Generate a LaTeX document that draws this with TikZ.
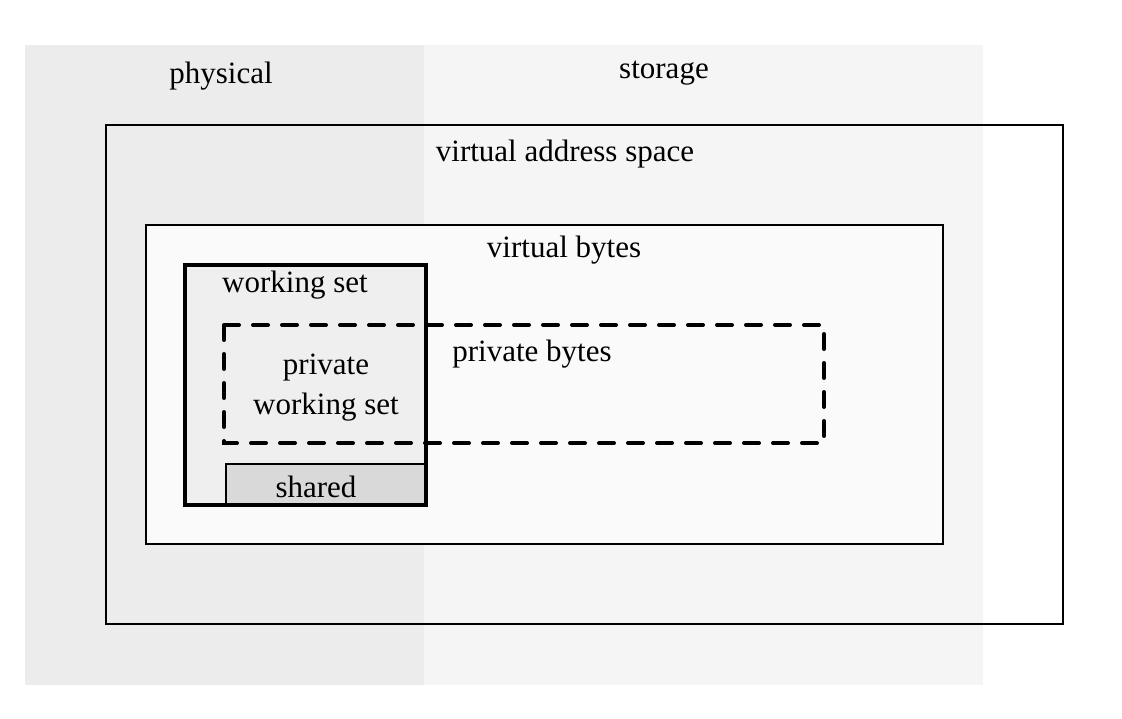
\documentclass[tikz,border=0pt]{standalone}
\usepackage{fontspec}
\setmainfont{Liberation Serif}
\definecolor{physgray}{HTML}{ECECEC}
\definecolor{storgray}{HTML}{F5F5F5}
\definecolor{vbfill}{HTML}{FAFAFA}
\definecolor{wsfill}{HTML}{EFEFEF}
\definecolor{shfill}{HTML}{D9D9D9}
\begin{document}
\begin{tikzpicture}[x=1pt,y=-1pt,
  lbl/.style={anchor=base,inner sep=0pt,font=\fontsize{31}{36}\selectfont},
  thinbox/.style={draw=black,line width=2pt},
  thickbox/.style={draw=black,line width=4pt},
  dashbox/.style={draw=black,line width=4pt,line cap=round,dash pattern=on 15pt off 14pt}]
\useasboundingbox (0,0) rectangle (1122,718);
\fill[white] (0,0) rectangle (1122,718);
% background bands
\fill[physgray] (25,45) rectangle (424,685);
\fill[storgray] (424,45) rectangle (983,685);
\node[lbl] (physical) at (221,83) {physical};
\node[lbl] (storage) at (664,78) {storage};
% virtual address space
\draw[thinbox] (106,125) rectangle (1063,624);
\node[lbl] (vas) at (565,161) {virtual address space};
% virtual bytes
\draw[thinbox,fill=vbfill] (146,225) rectangle (943,544);
\node[lbl] (vb) at (564,257) {virtual bytes};
% working set
\draw[thickbox,fill=wsfill] (185,265) rectangle (426,505);
\node[lbl] (ws) at (295,292) {working set};
% shared part of the working set
\draw[draw=black,line width=1.5pt,fill=shfill] (226,464) rectangle (425,505);
\draw[thickbox] (185,265) rectangle (426,505);
\node[lbl] (shared) at (316,497) {shared};
% private bytes
\draw[dashbox] (224,325) rectangle (824,443);
\node[lbl] (pb) at (532,361) {private bytes};
\node[lbl] (pws1) at (326,374) {private};
\node[lbl] (pws2) at (326,414) {working set};
\end{tikzpicture}
\end{document}
